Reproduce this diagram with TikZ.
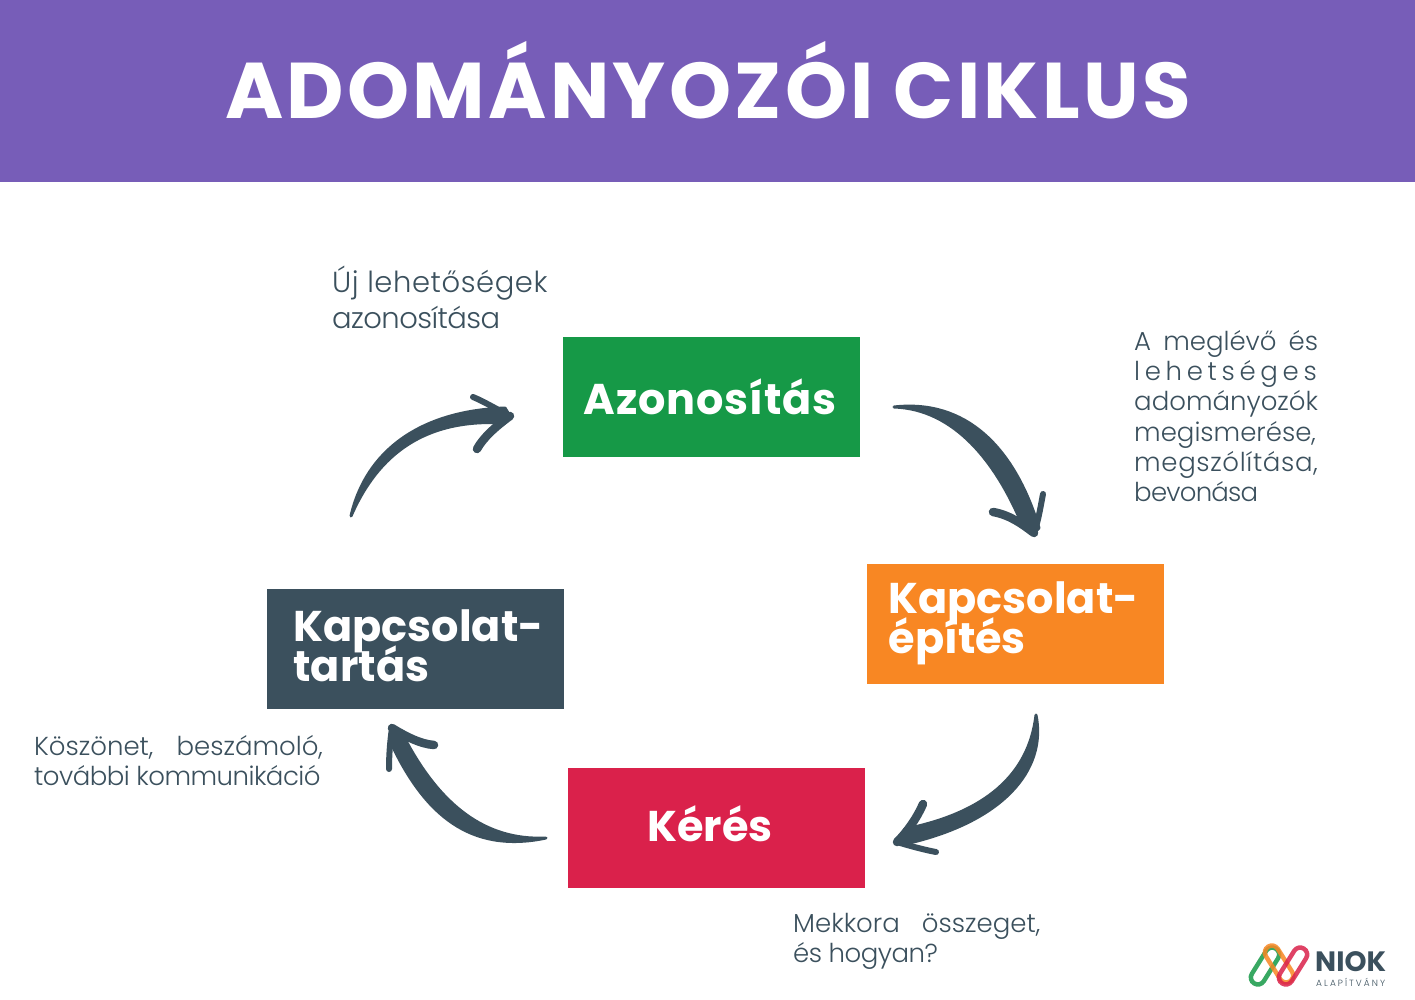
\documentclass[tikz,border=0pt]{standalone}
\usepackage{fontspec}
\usepackage{xcolor}
\usetikzlibrary{positioning}
\setmainfont{Poppins}
\newfontfamily\lightfont{Poppins Light}
\setlength{\lineskiplimit}{-100pt}
\setlength{\normallineskiplimit}{-100pt}
\definecolor{headpurple}{HTML}{775DB8}
\definecolor{boxgreen}{HTML}{169947}
\definecolor{boxorange}{HTML}{F88723}
\definecolor{boxred}{HTML}{DA214B}
\definecolor{slate}{HTML}{3B505D}
\newcommand{\track}[2]{{\addfontfeature{LetterSpace=#1}#2}}
\tikzset{
    stagebox/.style={anchor=north west, minimum width=297, minimum height=120, inner sep=0},
    stagetext/.style={text=white, font=\fontsize{43}{40}\selectfont\bfseries, align=left, anchor=west},
    note/.style={text=slate, font=\fontsize{26}{30.3}\selectfont\lightfont, align=left, anchor=north west, inner sep=0},
    flowarrow/.style={draw=slate, fill=slate, line width=3, line join=round, line cap=round},
    barb/.style={draw=slate, line width=8.5, line cap=round},
    thinbarb/.style={draw=slate, line width=6, line cap=round},
    logoloop/.style={draw, line width=4.5, minimum width=41, minimum height=14, rounded corners=7, inner sep=0, opacity=.85}
}
\begin{document}
\begin{tikzpicture}[x=1pt, y=-1pt]
    \useasboundingbox (0,0) rectangle (1415,1000);
    \fill[white] (0,0) rectangle (1415,1000);
    \fill[headpurple] (0,0) rectangle (1415,182);

    \node[text=white, font=\fontsize{79}{79}\selectfont\bfseries\addfontfeature{LetterSpace=4.2}] (title) at (708,80) {ADOMÁNYOZÓI CIKLUS};

    % boxes
    \node[stagebox, fill=boxgreen] (azon) at (563,337) {};
    \node[stagebox, fill=boxorange] (epit) at (867,564) {};
    \node[stagebox, fill=boxred] (keres) at (568,768) {};
    \node[stagebox, fill=slate] (tart) at (267,589) {};

    \node[stagetext, anchor=center] (azonlabel) at (710,397) {\track{2}{Azonosítás}};
    \node[stagetext] (epitlabel) at (885,623) {Kapcsolat-\\építés};
    \node[stagetext, anchor=center] (kereslabel) at (710,824) {Kérés};
    \node[stagetext] (tartlabel) at (290,646) {Kapcsolat-\\tartás};

    % notes
    \node[note, font=\fontsize{29}{36}\selectfont\lightfont] (n1) at (332,266) {\track{2}{Új lehetőségek}\\\track{-2}{azonosítása}};
    \node[note] (n2) at (1134,330) {A\hspace{5pt} meglévő\hspace{5pt} és\\\track{18}{lehetséges}\\adományozók\\megismerése,\\\track{2.5}{megszólítása,}\\\track{-3}{bevonása}};
    \node[note] (n3) at (793,913) {Mekkora\hspace{15pt} összeget,\\\track{-2}{és hogyan?}};
    \node[note] (n4) at (34,735) {Köszönet,\hspace{16pt} beszámoló,\\\track{-2}{további kommunikáció}};

    % arrows
    \coordinate (tail1) at (894,407);
    \coordinate (tip1) at (1034,533);
    \coordinate (tail2) at (1036,715);
    \coordinate (tip2) at (897,842);
    \coordinate (tail3) at (546,838);
    \coordinate (tip3) at (392,728);
    \coordinate (tail4) at (351,516);
    \coordinate (tip4) at (510,416);

    \draw[flowarrow] (tail1) .. controls (965,399) and (1014,446) .. (1039,528) -- (tip1) -- (1021,522) .. controls (996,463) and (955,409) .. (tail1);
    \draw[barb] (993,512) .. controls (1010,515) and (1022,524) .. (tip1);
    \draw[thinbarb] (1043,494) .. controls (1040,510) and (1038,522) .. (tip1);

    \draw[flowarrow] (tail2) .. controls (1047,770) and (1003,822) .. (905,844) -- (tip2) -- (905,829) .. controls (985,813) and (1029,775) .. (tail2);
    \draw[barb] (923,804) .. controls (917,818) and (907,832) .. (tip2);
    \draw[thinbarb] (936,852) .. controls (925,850) and (910,846) .. (tip2);

    \draw[flowarrow] (tail3) .. controls (470,854) and (425,814) .. (392,745) -- (tip3) -- (405,739) .. controls (440,805) and (485,841) .. (tail3);
    \draw[thinbarb] (389,769) .. controls (389,755) and (390,742) .. (tip3);
    \draw[barb] (434,745) .. controls (420,744) and (405,736) .. (tip3);

    \draw[flowarrow] (tail4) .. controls (366,451) and (420,411) .. (505,408) -- (tip4) -- (505,423) .. controls (425,418) and (378,454) .. (tail4);
    \draw[thinbarb] (473,397) .. controls (485,402) and (498,410) .. (tip4);
    \draw[barb] (477,449) .. controls (483,438) and (495,427) .. (tip4);

    % logo
    \node[logoloop, draw=boxgreen, rotate=58] (logoa) at (1265,966) {};
    \node[logoloop, draw=boxorange, rotate=-58] (logob) at (1279,964) {};
    \node[logoloop, draw=boxred, rotate=58] (logoc) at (1293,966) {};
    \node[text=slate, font=\fontsize{28}{28}\selectfont\bfseries, anchor=west, inner sep=0] (logotext) at (1315,962) {NIOK};
    \node[text=slate, font=\fontsize{9}{9}\selectfont\lightfont\addfontfeature{LetterSpace=23}, anchor=west, inner sep=0] (logosub) at (1316,982) {ALAPÍTVÁNY};
\end{tikzpicture}
\end{document}
